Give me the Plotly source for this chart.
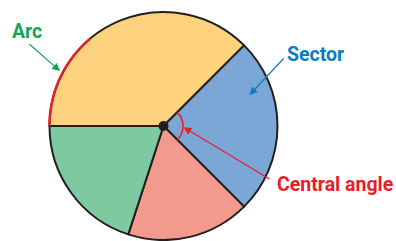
import math
import plotly.graph_objects as go

# ---- data ----
categories = ["Sector A", "Sector B", "Sector C", "Sector D"]
values = [135, 90, 63, 72]          # central angles in degrees, clockwise from 9 o'clock
slice_colors = ["#FDD27F", "#7BA7D7", "#F39A8F", "#7DC9A0"]
arc_span_deg = 50                   # highlighted arc on the first sector
label_texts = ["Arc", "Sector", "Central angle"]
label_colors = ["#13A45A", "#0A7CC1", "#EC1C2A"]

# ---- geometry (pixels) ----
W, H = 396, 241
cx, cy, R = 163.5, 126, 114
start_deg = 180  # math angle where first slice starts (9 o'clock)

total = sum(values)
angles = []
a = start_deg
for v in values:
    a0 = a
    a1 = a - v * 360.0 / total
    angles.append((a0, a1))
    a = a1

def arc_path(r, a0, a1, n=60):
    pts = []
    for i in range(n + 1):
        t = math.radians(a0 + (a1 - a0) * i / n)
        pts.append((cx + r * math.cos(t), cy - r * math.sin(t)))
    return "M " + " L ".join(f"{x:.2f},{y:.2f}" for x, y in pts)

fig = go.Figure()
# dummy invisible trace to create pixel-scaled axes
fig.add_trace(go.Scatter(x=[0], y=[0], mode="markers", marker=dict(opacity=0),
                         showlegend=False, hoverinfo="skip"))

fig.add_trace(go.Pie(
    labels=categories, values=values, sort=False, direction="clockwise",
    rotation=270, textinfo="none", hoverinfo="skip", showlegend=False,
    marker=dict(colors=slice_colors, line=dict(color="#231F20", width=2)),
    domain=dict(x=[(cx - R) / W, (cx + R) / W],
                y=[(H - cy - R) / H, (H - cy + R) / H]),
))

shapes = []
# highlighted arc on the first sector
ya0 = angles[0][0]
shapes.append(dict(type="path", xref="x", yref="y", layer="above",
                   path=arc_path(R, ya0, ya0 - arc_span_deg),
                   line=dict(color="#E8202A", width=2.5)))
# central angle arc on second sector
b0, b1 = angles[1]
shapes.append(dict(type="path", xref="x", yref="y", layer="above",
                   path=arc_path(19.5, b0, b1),
                   line=dict(color="#E8202A", width=1.6)))
# center point
shapes.append(dict(type="circle", xref="x", yref="y", layer="above",
                   x0=cx - 5, x1=cx + 5, y0=cy - 5, y1=cy + 5,
                   fillcolor="#231F20", line=dict(width=0)))

font_family = "Roboto, Liberation Sans Narrow, sans-serif"
fsize = 19.5
annotations = [
    dict(x=10, y=31, text=f"<b>{label_texts[0]}</b>", showarrow=False,
         xanchor="left", yanchor="middle", xref="x", yref="y",
         font=dict(family=font_family, size=fsize, color=label_colors[0])),
    dict(x=284.5, y=54, text=f"<b>{label_texts[1]}</b>", showarrow=False,
         xanchor="left", yanchor="middle", xref="x", yref="y",
         font=dict(family=font_family, size=fsize, color=label_colors[1])),
    dict(x=274.5, y=184.5, text=f"<b>{label_texts[2]}</b>", showarrow=False,
         xanchor="left", yanchor="middle", xref="x", yref="y",
         font=dict(family=font_family, size=fsize, color=label_colors[2])),
    # arrows
    dict(x=60, y=71, ax=28, ay=43, axref="x", ayref="y", xref="x", yref="y",
         text="", showarrow=True, arrowhead=2, arrowsize=1.3, arrowwidth=1.2,
         arrowcolor=label_colors[0], standoff=0),
    dict(x=249.5, y=95, ax=285, ay=57, axref="x", ayref="y", xref="x", yref="y",
         text="", showarrow=True, arrowhead=2, arrowsize=1.3, arrowwidth=1.2,
         arrowcolor=label_colors[1], standoff=0),
    dict(x=183.5, y=127.3, ax=271, ay=180, axref="x", ayref="y", xref="x", yref="y",
         text="", showarrow=True, arrowhead=2, arrowsize=1.3, arrowwidth=1.2,
         arrowcolor=label_colors[2], standoff=0),
]

fig.update_layout(
    width=W, height=H, margin=dict(l=0, r=0, t=0, b=0),
    paper_bgcolor="white", plot_bgcolor="rgba(0,0,0,0)",
    xaxis=dict(range=[0, W], visible=False, fixedrange=True),
    yaxis=dict(range=[H, 0], visible=False, fixedrange=True),
    shapes=shapes, annotations=annotations, showlegend=False,
)

fig.write_html("out.html", config={"displayModeBar": False},
               post_script="document.body.style.margin='0px';document.body.style.overflow='hidden';")
